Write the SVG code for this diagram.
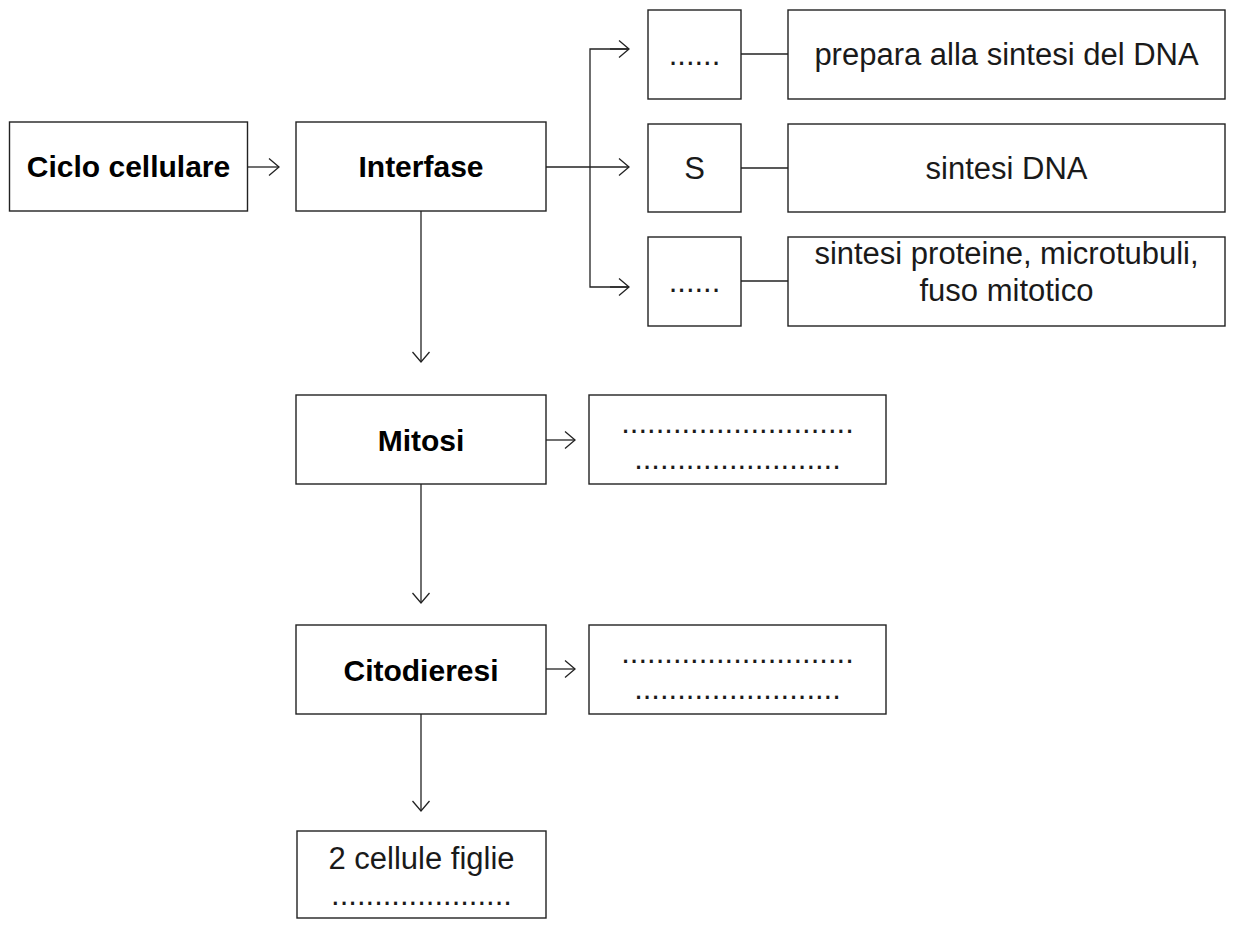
<svg xmlns="http://www.w3.org/2000/svg" width="1233" height="927" viewBox="0 0 1233 927">
<style>
.box{fill:#fff;stroke:#222;stroke-width:1.4}
.b{font-family:"Liberation Sans",Arial,sans-serif;font-weight:bold;font-size:30px;fill:#000;text-anchor:middle}
.t{font-family:"Liberation Sans",Arial,sans-serif;font-size:31px;fill:#1a1a1a;text-anchor:middle}
.c{fill:none;stroke:#222;stroke-width:1.3}
</style>
<defs>
<marker id="ah" markerUnits="userSpaceOnUse" markerWidth="24" markerHeight="24" viewBox="-12 -12 24 24" refX="0" refY="0" orient="auto">
<path d="M-10,-8.5 L0,0 L-10,8.5" fill="none" stroke="#222" stroke-width="1.3"/>
</marker>
</defs>
<g id="connectors">
<line class="c" x1="247.5" y1="167" x2="279" y2="167" marker-end="url(#ah)"/>
<line class="c" x1="546" y1="167" x2="629" y2="167" marker-end="url(#ah)"/>
<path class="c" d="M629,49 H590 V287 H629"/>
<line class="c" x1="610" y1="49" x2="629" y2="49" marker-end="url(#ah)"/>
<line class="c" x1="610" y1="287" x2="629" y2="287" marker-end="url(#ah)"/>
<line class="c" x1="741" y1="54" x2="788" y2="54"/>
<line class="c" x1="741" y1="168" x2="788" y2="168"/>
<line class="c" x1="741" y1="281" x2="788" y2="281"/>
<line class="c" x1="421" y1="211" x2="421" y2="362" marker-end="url(#ah)"/>
<line class="c" x1="546" y1="440" x2="575" y2="440" marker-end="url(#ah)"/>
<line class="c" x1="421" y1="484" x2="421" y2="603" marker-end="url(#ah)"/>
<line class="c" x1="546" y1="669" x2="575" y2="669" marker-end="url(#ah)"/>
<line class="c" x1="421" y1="714" x2="421" y2="811" marker-end="url(#ah)"/>
</g>
<g id="ciclo">
<rect class="box" x="9.5" y="122" width="238" height="89"/>
<text class="b" x="128.5" y="177">Ciclo cellulare</text>
</g>
<g id="interfase">
<rect class="box" x="296" y="122" width="250" height="89"/>
<text class="b" x="421" y="177">Interfase</text>
</g>
<g id="g1">
<rect class="box" x="648" y="10" width="93" height="89"/>
<text class="t" x="694.5" y="65">......</text>
</g>
<g id="s">
<rect class="box" x="648" y="124" width="93" height="88"/>
<text class="t" x="694.5" y="179">S</text>
</g>
<g id="g2">
<rect class="box" x="648" y="237" width="93" height="89"/>
<text class="t" x="694.5" y="292">......</text>
</g>
<g id="g1desc">
<rect class="box" x="788" y="10" width="437" height="89"/>
<text class="t" x="1006.5" y="65">prepara alla sintesi del DNA</text>
</g>
<g id="sdesc">
<rect class="box" x="788" y="124" width="437" height="88"/>
<text class="t" x="1006.5" y="179">sintesi DNA</text>
</g>
<g id="g2desc">
<rect class="box" x="788" y="237" width="437" height="89"/>
<text class="t" x="1006.5" y="264">sintesi proteine, microtubuli,</text>
<text class="t" x="1006.5" y="301">fuso mitotico</text>
</g>
<g id="mitosi">
<rect class="box" x="296" y="395" width="250" height="89"/>
<text class="b" x="421" y="451">Mitosi</text>
</g>
<g id="mitosidesc">
<rect class="box" x="589" y="395" width="297" height="89"/>
<text class="t" x="737.5" y="433">...........................</text>
<text class="t" x="737.5" y="469">........................</text>
</g>
<g id="citodieresi">
<rect class="box" x="296" y="625" width="250" height="89"/>
<text class="b" x="421" y="681">Citodieresi</text>
</g>
<g id="citodesc">
<rect class="box" x="589" y="625" width="297" height="89"/>
<text class="t" x="737.5" y="663">...........................</text>
<text class="t" x="737.5" y="699">........................</text>
</g>
<g id="figlie">
<rect class="box" x="297" y="831" width="249" height="87"/>
<text class="t" x="421.5" y="869">2 cellule figlie</text>
<text class="t" x="421.5" y="905">.....................</text>
</g>
</svg>
